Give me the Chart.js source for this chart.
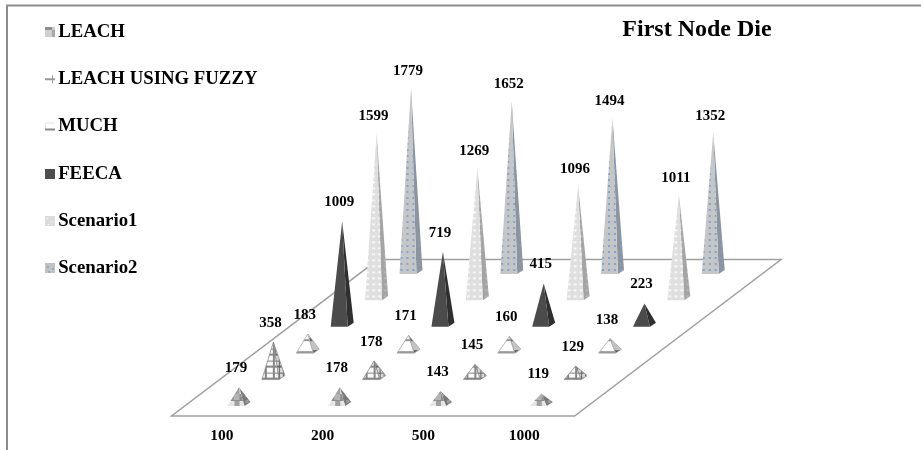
<!DOCTYPE html>
<html>
<head>
<meta charset="utf-8">
<title>First Node Die</title>
<script src="https://cdn.jsdelivr.net/npm/chart.js@4"></script>
<style>
  html, body { margin: 0; padding: 0; background: #fff; }
  canvas { display: block; }
</style>
</head>
<body>
<canvas id="graphContainer" width="921" height="450"></canvas>
<script>

var categories = ['100', '200', '500', '1000'];
var seriesNames = ['LEACH', 'LEACH USING FUZZY', 'MUCH', 'FEECA', 'Scenario1', 'Scenario2'];

var leachValues = [179, 178, 143, 119];
var fuzzyValues = [358, 178, 145, 129];
var muchValues = [183, 171, 160, 138];
var feecaValues = [1009, 719, 415, 223];
var scenario1Values = [1599, 1269, 1096, 1011];
var scenario2Values = [1779, 1652, 1494, 1352];

var allValues = [leachValues, fuzzyValues, muchValues, feecaValues, scenario1Values, scenario2Values];

var serifFont = "'Liberation Serif', 'Times New Roman', serif";

// one depth row on the floor, in px
var rowShiftX = 34.4;
var rowShiftY = 26.4;

function makeTile(w, h, paint) {
    var tile = document.createElement('canvas');
    tile.width = w;
    tile.height = h;
    paint(tile.getContext('2d'));
    return tile;
}

function dotted(w, h, back, dot, dotW, dotH) {
    return makeTile(w, h, function (c) {
        c.fillStyle = back;
        c.fillRect(0, 0, w, h);
        c.fillStyle = dot;
        c.fillRect(1, 1, dotW, dotH);
    });
}

// front and side face of each series
var faces = [
    {
        front: makeTile(12, 12, function (c) {
            c.fillStyle = '#8e8e8e'; c.fillRect(0, 0, 12, 12);
            c.fillStyle = '#b4b4b4'; c.fillRect(6, 0, 6, 6);
            c.fillStyle = '#e6e6e6'; c.fillRect(0, 7, 7, 5);
            c.fillStyle = '#a0a0a0'; c.fillRect(7, 7, 5, 5);
        }),
        side: makeTile(6, 6, function (c) {
            c.fillStyle = '#7a7a7a'; c.fillRect(0, 0, 6, 6);
            c.fillStyle = '#9a9a9a'; c.fillRect(0, 0, 3, 3);
        })
    },
    {
        front: makeTile(8, 12, function (c) {
            c.fillStyle = '#fbfbfb'; c.fillRect(0, 0, 8, 12);
            c.fillStyle = '#868686'; c.fillRect(0, 5, 8, 1); c.fillRect(0, 10, 8, 2); c.fillRect(3, 0, 2, 12);
        }),
        side: makeTile(4, 12, function (c) {
            c.fillStyle = '#d8d8d8'; c.fillRect(0, 0, 4, 12);
            c.fillStyle = '#666'; c.fillRect(0, 5, 4, 1); c.fillRect(0, 10, 4, 2); c.fillRect(1, 0, 1, 12);
        }),
        edge: '#8c8c8c'
    },
    {
        front: makeTile(8, 12, function (c) {
            c.fillStyle = '#fff'; c.fillRect(0, 0, 8, 12);
            c.fillStyle = '#949494'; c.fillRect(0, 10, 8, 2);
        }),
        side: makeTile(4, 12, function (c) {
            c.fillStyle = '#c4c4c4'; c.fillRect(0, 0, 4, 12);
            c.fillStyle = '#5e5e5e'; c.fillRect(0, 9, 4, 3);
        }),
        edge: '#a6a6a6'
    },
    {
        front: dotted(4, 4, '#4b4b4b', '#4b4b4b', 1, 1),
        side: dotted(4, 4, '#2f2f2f', '#2f2f2f', 1, 1)
    },
    {
        front: dotted(6, 6, '#dfdfdf', '#f8f8f8', 3, 2),
        side: dotted(6, 6, '#a4a4a4', '#b4b4b4', 3, 2)
    },
    {
        front: dotted(6, 6, '#c6c6c6', '#7ba4d8', 2, 2),
        side: dotted(6, 6, '#8e949e', '#7f9cc4', 2, 2)
    }
];

// legend keys, 4px blank on the left so the text sits close to the key
function makeKey(paint) {
    return makeTile(14, 10, function (c) {
        c.translate(4, 0);
        paint(c);
    });
}

var legendKeys = [
    makeKey(function (c) {
        c.fillStyle = '#cfcfcf'; c.fillRect(0, 0, 10, 10);
        c.fillStyle = '#8e8e8e'; c.fillRect(0, 0, 7, 3);
        c.fillStyle = '#a8a8a8'; c.fillRect(7, 3, 3, 7);
    }),
    makeKey(function (c) {
        c.fillStyle = '#999'; c.fillRect(0, 4, 10, 2); c.fillRect(7, 1, 1, 8);
    }),
    makeKey(function (c) {
        c.fillStyle = '#e8e8e8'; c.fillRect(0, 1, 10, 1); c.fillRect(0, 1, 1, 6);
        c.fillStyle = '#8a8a8a'; c.fillRect(0, 7, 10, 2);
    }),
    makeKey(function (c) {
        c.fillStyle = '#4d4d4d'; c.fillRect(0, 0, 10, 10);
    }),
    makeKey(function (c) {
        c.fillStyle = '#dcdcdc'; c.fillRect(0, 0, 10, 10);
        c.fillStyle = '#fff'; c.fillRect(2, 2, 1, 1); c.fillRect(7, 5, 1, 1); c.fillRect(3, 8, 1, 1);
    }),
    makeKey(function (c) {
        c.fillStyle = '#c2c2c2'; c.fillRect(0, 0, 10, 10);
        c.fillStyle = '#5d93d6'; c.fillRect(2, 3, 2, 1); c.fillRect(7, 5, 2, 1); c.fillRect(3, 8, 2, 1);
    })
];

var datasets = [];
for (var s = 0; s < seriesNames.length; s++) {
    datasets.push({
        label: seriesNames[s],
        data: allValues[s],
        showLine: false,
        pointRadius: 0,
        pointStyle: legendKeys[s]
    });
}

function drawPyramid(ctx, chart, s, i) {
    var point = chart.getDatasetMeta(s).data[i];
    var zero = chart.scales.y.getPixelForValue(0);
    var centerX = point.x + 17 + s * rowShiftX;
    var baseY = zero - s * rowShiftY;
    var apexY = point.y - s * rowShiftY;
    var tall = baseY - apexY;
    var look = faces[s];

    ctx.save();
    ctx.translate(centerX - 11.5, baseY);

    ctx.fillStyle = ctx.createPattern(look.side, 'repeat');
    ctx.beginPath();
    ctx.moveTo(17, 0);
    ctx.lineTo(23, -4);
    ctx.lineTo(11.5, -tall);
    ctx.closePath();
    ctx.fill();
    if (look.edge) { ctx.strokeStyle = look.edge; ctx.lineWidth = 0.8; ctx.stroke(); }

    ctx.fillStyle = ctx.createPattern(look.front, 'repeat');
    ctx.beginPath();
    ctx.moveTo(0, 0);
    ctx.lineTo(17, 0);
    ctx.lineTo(11.5, -tall);
    ctx.closePath();
    ctx.fill();
    if (look.edge) { ctx.strokeStyle = look.edge; ctx.lineWidth = 0.8; ctx.stroke(); }
    ctx.restore();

    ctx.fillStyle = '#000';
    ctx.font = 'bold 15px ' + serifFont;
    ctx.textAlign = 'center';
    ctx.textBaseline = 'middle';
    // tall back rows carry their label a bit closer to the tip
    ctx.fillText(allValues[s][i], centerX - 3, apexY - (s >= 4 ? 17 : 19));
}

var pyramidPlugin = {
    id: 'pyramids',
    beforeLayout: function (chart) {
        // legend overhangs the floor, so it only books the room left of it
        var legend = chart.legend;
        if (!legend.plainFit) {
            legend.plainFit = legend.fit;
            legend.fit = function () {
                this.plainFit();
                this.width = 152.85;
            };
        }
    },
    afterLayout: function (chart) {
        chart.legend.top = -6;
        chart.legend.right = 300; // legend draws clipped to its box
        chart.legend.adjustHitBoxes();
        chart.titleBlock.left = 597;
        chart.titleBlock.right = 797;
        chart.titleBlock.top = 15;
    },
    beforeDraw: function (chart) {
        var ctx = chart.ctx;
        ctx.save();
        ctx.strokeStyle = '#8c8c8c';
        ctx.lineWidth = 2;
        ctx.beginPath();
        ctx.moveTo(7, 450);
        ctx.lineTo(7, 5.5);
        ctx.lineTo(921, 5.5);
        ctx.stroke();
        ctx.restore();
    },
    beforeDatasetsDraw: function (chart) {
        var ctx = chart.ctx;
        var area = chart.chartArea;
        var depthX = rowShiftX * seriesNames.length;
        var depthY = rowShiftY * seriesNames.length - 2;
        ctx.save();
        ctx.strokeStyle = '#a0a0a0';
        ctx.lineWidth = 1.5;
        ctx.beginPath();
        ctx.moveTo(area.left, area.bottom);
        ctx.lineTo(area.right, area.bottom);
        ctx.lineTo(area.right + depthX, area.bottom - depthY);
        ctx.lineTo(area.left + depthX, area.bottom - depthY);
        ctx.closePath();
        ctx.stroke();
        ctx.restore();
    },
    afterDatasetsDraw: function (chart) {
        for (var s = seriesNames.length - 1; s >= 0; s--) {
            for (var i = 0; i < categories.length; i++) {
                drawPyramid(chart.ctx, chart, s, i);
            }
        }
    }
};

var chart = new Chart(document.getElementById('graphContainer').getContext('2d'), {
    type: 'line',
    data: { labels: categories, datasets: datasets },
    plugins: [pyramidPlugin],
    options: {
        responsive: false,
        animation: false,
        layout: { padding: { left: 18.75, right: 346.4, top: 0, bottom: 0 } },
        scales: {
            x: {
                offset: true,
                afterFit: function (scale) {
                    scale.height = 34;
                    scale.paddingBottom = 0;
                },
                grid: { display: false },
                border: { display: false },
                ticks: {
                    color: '#000',
                    padding: 3,
                    maxRotation: 0,
                    font: { family: serifFont, size: 15.5, weight: 'bold' }
                }
            },
            y: { display: false, min: -96, max: 3609 }
        },
        plugins: {
            tooltip: { enabled: false },
            title: {
                display: true,
                text: 'First Node Die',
                color: '#000',
                padding: 0,
                font: { family: serifFont, size: 24, weight: 'bold' }
            },
            legend: {
                display: true,
                position: 'left',
                align: 'start',
                labels: {
                    usePointStyle: true,
                    boxWidth: 1.5,
                    padding: 28.5,
                    color: '#000',
                    font: { family: serifFont, size: 18.8, weight: 'bold' }
                }
            }
        }
    }
});
</script>
</body>
</html>
